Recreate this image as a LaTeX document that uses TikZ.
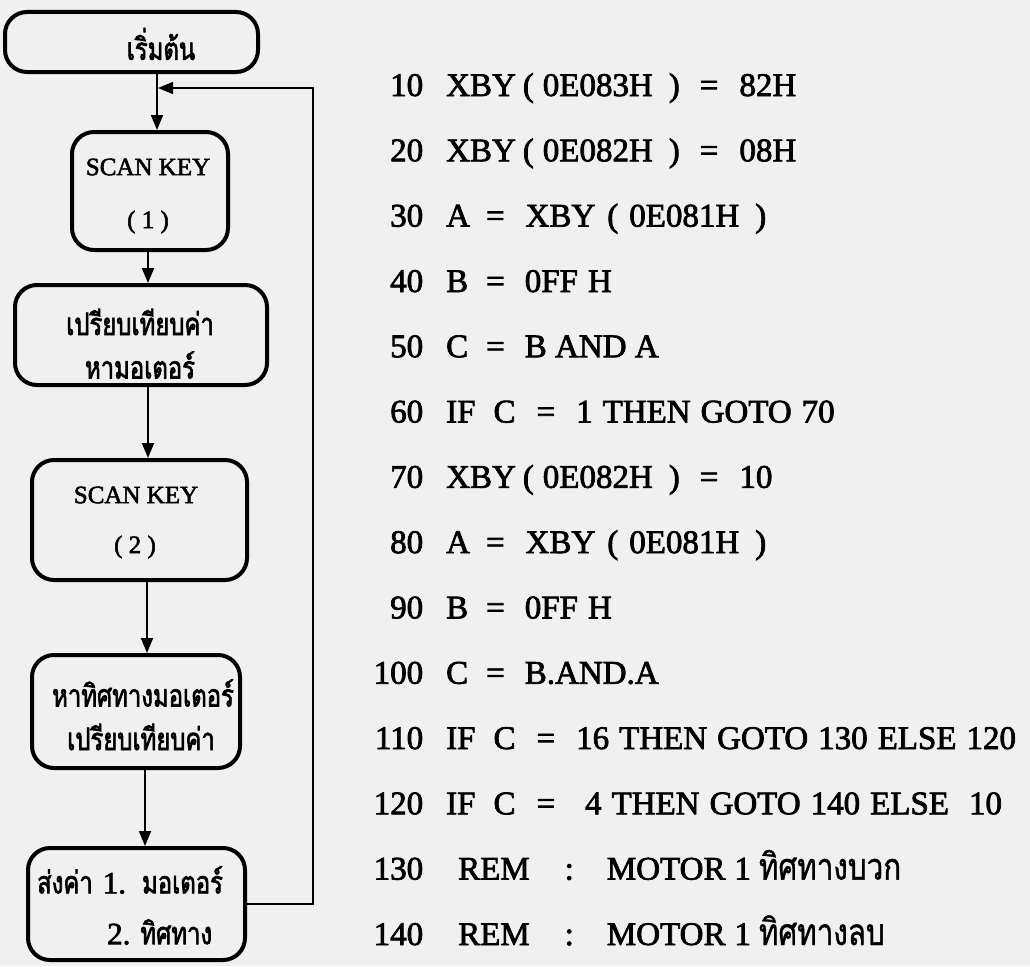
\documentclass[tikz,border=0pt]{standalone}
\usepackage{fontspec}
\setmainfont{Liberation Serif}
\newfontfamily\heavy{Liberation Serif}[FakeBold=2.2]
\newfontfamily\thai{Loma}[Script=Thai, FakeStretch=0.77, FakeBold=2]
\newfontfamily\thaicode{Loma}[Script=Thai, FakeStretch=0.8, FakeBold=1]
\usetikzlibrary{arrows.meta}
\newcommand{\gp}[1]{\hspace{#1pt}}
\newcommand{\cnum}[1]{\makebox[49pt][r]{#1}}
\newcommand{\thcode}[1]{{\thaicode\fontsize{37}{42}\selectfont #1}}
\begin{document}
\begin{tikzpicture}[x=1pt,y=-1pt,
  box/.style={draw=black, line width=4pt, rounded corners=22pt, inner sep=0pt},
  flow/.style={line width=1.8pt, -{Triangle[length=15pt,width=12pt]}},
  loopline/.style={line width=1.6pt, -{Triangle[length=15pt,width=12pt]}},
  ftxt/.style={inner sep=0pt, font=\heavy\fontsize{25}{30}\selectfont},
  ttxt/.style={inner sep=0pt, font=\thai\fontsize{31}{34}\selectfont},
  code/.style={inner sep=0pt, anchor=base west, font=\heavy\fontsize{33}{40}\selectfont}]
\useasboundingbox (0,0) rectangle (1030,966);
\fill[black!6] (0,0) rectangle (1030,966);

% boxes
\node[box, minimum width=253pt, minimum height=60pt] (start) at (131.5,42) {};
\node[box, minimum width=156pt, minimum height=118pt] (scan1) at (150,191) {};
\node[box, minimum width=252pt, minimum height=100pt] (cmp) at (141,335) {};
\node[box, minimum width=215pt, minimum height=120pt] (scan2) at (139.5,520) {};
\node[box, minimum width=208pt, minimum height=113pt] (dir) at (136,711.5) {};
\node[box, minimum width=217pt, minimum height=112pt] (out) at (136.5,904) {};

% box texts
\node[ttxt] (tstart) at (161,44) {เริ่มต้น};
\node[ftxt] (ts1a) at (148,167) {SCAN KEY};
\node[ftxt] (ts1b) at (148,222) {( 1 )};
\node[ttxt] (tc1) at (140,322) {เปรียบเทียบค่า};
\node[ttxt] (tc2) at (140,365) {หามอเตอร์};
\node[ftxt] (ts2a) at (136,495) {SCAN KEY};
\node[ftxt] (ts2b) at (135,547) {( 2 )};
\node[ttxt] (td1) at (143,693) {หาทิศทางมอเตอร์};
\node[ttxt] (td2) at (141,737) {เปรียบเทียบค่า};
\node[ttxt, anchor=west] (to1) at (37,880) {ส่งค่า\gp{10}{\heavy 1.}\gp{16}มอเตอร์};
\node[ttxt, anchor=west] (to2) at (107,932) {{\heavy 2.}\gp{10}ทิศทาง};

% connectors
\coordinate (join) at (158,88);
\coordinate (xa) at (157,0);
\coordinate (xb) at (148,0);
\coordinate (xc) at (147,0);
\coordinate (xd) at (145,0);
\coordinate (loopx) at (313,0);
\draw[flow] (start.south -| xa) -- (scan1.north -| xa);
\draw[flow] (scan1.south -| xb) -- (cmp.north -| xb);
\draw[flow] (cmp.south -| xb) -- (scan2.north -| xb);
\draw[flow] (scan2.south -| xc) -- (dir.north -| xc);
\draw[flow] (dir.south -| xd) -- (out.north -| xd);
\draw[loopline] (out.east) -- (out.east -| loopx) -- (loopx |- join) -- (join);

% code
\node[code] (l10) at (374,96) {\cnum{10}\gp{23}XBY\gp{7}(\gp{9}0E083H\gp{16})\gp{20}=\gp{21}82H};
\node[code] (l20) at (374,161.3) {\cnum{20}\gp{23}XBY\gp{7}(\gp{9}0E082H\gp{16})\gp{20}=\gp{21}08H};
\node[code] (l30) at (374,226.6) {\cnum{30}\gp{23}A\gp{16}=\gp{21}XBY\gp{12}(\gp{11}0E081H\gp{16})};
\node[code] (l40) at (374,292) {\cnum{40}\gp{23}B\gp{18}=\gp{20}0FF\gp{10}H};
\node[code] (l50) at (374,357.2) {\cnum{50}\gp{23}C\gp{18}=\gp{20}B AND A};
\node[code] (l60) at (374,422.5) {\cnum{60}\gp{23}IF\gp{18}C\gp{21}=\gp{21}1\gp{10}THEN\gp{10}GOTO\gp{10}70};
\node[code] (l70) at (374,487.8) {\cnum{70}\gp{23}XBY\gp{7}(\gp{9}0E082H\gp{16})\gp{20}=\gp{21}10};
\node[code] (l80) at (374,553.1) {\cnum{80}\gp{23}A\gp{16}=\gp{21}XBY\gp{12}(\gp{11}0E081H\gp{16})};
\node[code] (l90) at (374,618.4) {\cnum{90}\gp{23}B\gp{18}=\gp{20}0FF\gp{10}H};
\node[code] (l100) at (374,683.7) {\cnum{100}\gp{23}C\gp{18}=\gp{20}B.AND.A};
\node[code] (l110) at (374,749) {\cnum{110}\gp{23}IF\gp{18}C\gp{21}=\gp{21}16\gp{10}THEN\gp{10}GOTO\gp{10}130\gp{10}ELSE\gp{10}120};
\node[code] (l120) at (374,814.3) {\cnum{120}\gp{23}IF\gp{18}C\gp{21}=\gp{30}4\gp{10}THEN\gp{10}GOTO\gp{10}140\gp{10}ELSE\gp{20}10};
\node[code] (l130) at (374,879.6) {\cnum{130}\gp{35}REM\gp{35}:\gp{33}MOTOR\gp{9}1\gp{8}\thcode{ทิศทางบวก}};
\node[code] (l140) at (374,945) {\cnum{140}\gp{35}REM\gp{35}:\gp{33}MOTOR\gp{9}1\gp{8}\thcode{ทิศทางลบ}};
\end{tikzpicture}
\end{document}
